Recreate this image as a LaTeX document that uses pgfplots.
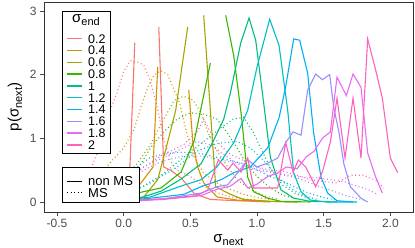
\documentclass[border=0pt]{standalone}
\usepackage{pgfplots}
\pgfplotsset{compat=1.18}
\usepackage{fontspec}
\setmainfont{Liberation Sans}
\definecolor{c1}{HTML}{F8766D}
\definecolor{c2}{HTML}{D89000}
\definecolor{c3}{HTML}{A3A500}
\definecolor{c4}{HTML}{39B600}
\definecolor{c5}{HTML}{00BF7D}
\definecolor{c6}{HTML}{00BFC4}
\definecolor{c7}{HTML}{00B0F6}
\definecolor{c8}{HTML}{9590FF}
\definecolor{c9}{HTML}{E76BF3}
\definecolor{c10}{HTML}{FF62BC}
\begin{document}
\begin{tikzpicture}[x=1pt,y=1pt]
\useasboundingbox (-44,-36) rectangle (371,212);
\begin{axis}[at={(0,0)}, anchor=south west, scale only axis,
  width=369pt, height=210pt,
  xmin=-0.598, xmax=2.17, ymin=-0.157, ymax=3.14,
  xtick={-0.5,0,0.5,1,1.5,2}, xticklabels={-0.5,0.0,0.5,1.0,1.5,2.0},
  ytick={0,1,2,3}, yticklabels={0,1,2,3},
  tick align=outside, tick pos=left, major tick length=4pt,
  axis line style={draw=black!80, line width=0.8pt},
  every tick/.style={black!70, line width=0.6pt},
  tick label style={font=\fontsize{12}{12}\selectfont, text=black!70},
  every axis x label/.style={at={(axis description cs:0.5,-0.133)}, anchor=center, font=\fontsize{15}{15}\selectfont},
  every axis y label/.style={at={(axis description cs:-0.0786,0.5)}, anchor=center, rotate=90, font=\fontsize{15}{15}\selectfont},
  xlabel={σ\raisebox{-0.45ex}{\fontsize{11}{11}\selectfont next}},
  ylabel={p(σ\raisebox{-0.45ex}{\fontsize{11}{11}\selectfont next})},
  unbounded coords=jump,
  ms/.style={line width=1.1pt, dash pattern=on 1pt off 2.6pt},
  nm/.style={line width=1.1pt},
]
% ---------- MS (dotted) ----------
\addplot[c1, ms] coordinates {(-0.45,0.03)(-0.38,0.1)(-0.3,0.3)(-0.23,0.6)(-0.17,0.92)(-0.1,1.45)(-0.05,1.72)(0.0,2.05)(0.05,2.22)(0.1,2.2)(0.15,2.15)(0.2,1.9)(0.25,1.5)(0.3,1.0)(0.35,0.65)(0.4,0.5)(0.5,0.4)(0.6,0.25)(0.7,0.15)(0.8,0.08)(0.9,0.05)(1.0,0.03)};
\addplot[c2, ms] coordinates {(-0.3,0.15)(-0.2,0.38)(-0.1,0.62)(0.0,0.85)(0.08,1.15)(0.13,1.5)(0.18,1.8)(0.23,2.0)(0.28,2.06)(0.33,2.0)(0.37,1.8)(0.42,1.55)(0.47,1.1)(0.53,0.7)(0.6,0.45)(0.7,0.3)(0.8,0.2)(0.9,0.12)(1.0,0.07)(1.1,0.04)};
\addplot[c3, ms] coordinates {(-0.2,0.1)(-0.1,0.2)(0.0,0.38)(0.1,0.6)(0.2,0.9)(0.3,1.3)(0.38,1.6)(0.45,1.66)(0.52,1.6)(0.58,1.4)(0.63,1.1)(0.7,0.8)(0.78,0.55)(0.85,0.35)(0.95,0.2)(1.05,0.1)(1.15,0.05)};
\addplot[c4, ms] coordinates {(-0.1,0.1)(0.0,0.25)(0.1,0.5)(0.2,0.85)(0.3,1.1)(0.4,1.3)(0.5,1.4)(0.6,1.38)(0.7,1.3)(0.78,1.08)(0.85,0.85)(0.92,0.6)(1.0,0.4)(1.1,0.22)(1.2,0.1)(1.3,0.05)};
\addplot[c5, ms] coordinates {(0.0,0.1)(0.15,0.25)(0.3,0.45)(0.45,0.7)(0.6,0.95)(0.72,1.15)(0.82,1.3)(0.9,1.33)(0.97,1.1)(1.05,0.75)(1.12,0.45)(1.2,0.25)(1.3,0.12)(1.4,0.05)};
\addplot[c6, ms] coordinates {(0.0,0.1)(0.2,0.3)(0.4,0.55)(0.55,0.8)(0.7,0.92)(0.85,0.95)(0.95,0.85)(1.05,0.65)(1.15,0.4)(1.25,0.22)(1.35,0.1)(1.45,0.04)};
\addplot[c7, ms] coordinates {(-0.1,0.1)(0.0,0.3)(0.1,0.55)(0.2,0.7)(0.3,0.75)(0.4,0.78)(0.5,0.78)(0.6,0.75)(0.7,0.7)(0.8,0.65)(0.9,0.6)(1.0,0.5)(1.1,0.4)(1.2,0.32)(1.3,0.22)(1.4,0.13)(1.5,0.07)(1.6,0.03)};
\addplot[c8, ms] coordinates {(-0.1,0.1)(0.0,0.25)(0.15,0.5)(0.3,0.65)(0.45,0.72)(0.6,0.72)(0.75,0.65)(0.9,0.6)(1.05,0.5)(1.2,0.42)(1.3,0.38)(1.4,0.3)(1.5,0.22)(1.6,0.15)(1.7,0.08)(1.8,0.03)};
\addplot[c9, ms] coordinates {(-0.1,0.1)(0.0,0.3)(0.15,0.55)(0.3,0.7)(0.45,0.85)(0.55,0.95)(0.65,0.9)(0.75,0.75)(0.85,0.6)(1.0,0.5)(1.15,0.45)(1.3,0.4)(1.45,0.38)(1.55,0.35)(1.65,0.32)(1.75,0.25)(1.85,0.18)(1.9,0.12)};
\addplot[c10, ms] coordinates {(-0.1,0.1)(0.0,0.3)(0.15,0.55)(0.3,0.75)(0.45,0.9)(0.55,1.1)(0.6,1.3)(0.65,1.1)(0.72,0.9)(0.8,0.75)(0.9,0.65)(1.0,0.55)(1.1,0.5)(1.2,0.48)(1.3,0.42)(1.4,0.35)(1.5,0.32)(1.6,0.3)(1.7,0.42)(1.8,0.42)(1.9,0.33)(1.95,0.22)};
% ---------- non MS (solid) ----------
\addplot[c1, nm] coordinates {(-0.06,0.06)(0.0,0.42)(0.045,0.47)(0.083,2.5)(0.17,nan)(0.263,2.75)(0.3,0.55)(0.35,0.5)(0.43,0.38)(0.53,0.13)(0.65,0.04)(0.85,0.02)(1.1,0.0)};
\addplot[c2, nm] coordinates {(-0.1,0.03)(0.05,0.11)(0.13,0.3)(0.22,0.55)(0.255,2.12)(0.37,nan)(0.488,1.76)(0.52,0.9)(0.555,0.55)(0.6,0.3)(0.7,0.08)(0.85,0.03)(1.1,0.01)(1.3,0.0)};
\addplot[c3, nm] coordinates {(-0.05,0.01)(0.05,0.04)(0.15,0.08)(0.255,0.35)(0.315,0.82)(0.39,1.44)(0.48,2.75)(0.54,nan)(0.6,2.93)(0.69,0.24)(0.8,0.12)(0.9,0.04)(1.1,0.01)(1.3,0.0)};
\addplot[c4, nm] coordinates {(0.0,0.06)(0.1,0.14)(0.28,0.22)(0.43,0.47)(0.53,0.97)(0.65,2.18)(0.71,nan)(0.765,2.93)(0.825,2.3)(0.88,1.4)(0.93,0.39)(0.975,0.16)(1.08,0.06)(1.18,0.01)(1.4,0.0)};
\addplot[c5, nm] coordinates {(0.0,0.02)(0.1,0.05)(0.28,0.17)(0.43,0.36)(0.58,0.6)(0.675,0.97)(0.75,1.3)(0.8,1.71)(0.878,2.5)(0.94,2.89)(0.99,2.54)(1.05,1.55)(1.1,0.7)(1.18,0.19)(1.275,0.06)(1.4,0.01)(1.6,0.0)};
\addplot[c6, nm] coordinates {(0.0,0.02)(0.2,0.08)(0.43,0.25)(0.58,0.35)(0.7,0.55)(0.825,0.93)(0.93,1.44)(1.0,2.12)(1.095,2.87)(1.165,2.46)(1.23,1.44)(1.275,0.46)(1.33,0.16)(1.4,0.03)(1.53,0.0)(1.75,0.0)};
\addplot[c7, nm] coordinates {(0.0,0.02)(0.2,0.06)(0.45,0.12)(0.58,0.24)(0.73,0.35)(0.825,0.46)(0.95,0.55)(1.08,0.85)(1.165,1.32)(1.215,1.81)(1.275,2.56)(1.32,2.54)(1.38,2.02)(1.425,1.08)(1.48,0.39)(1.53,0.14)(1.6,0.02)(1.72,0.0)};
\addplot[c8, nm] coordinates {(0.0,0.01)(0.3,0.05)(0.58,0.14)(0.7,0.24)(0.78,0.27)(0.855,0.46)(0.93,0.66)(1.0,0.55)(1.08,0.61)(1.155,0.69)(1.215,0.93)(1.27,1.1)(1.33,1.05)(1.38,1.76)(1.44,2.01)(1.49,1.92)(1.545,2.0)(1.575,1.49)(1.615,1.09)(1.65,0.61)(1.7,0.24)(1.78,0.06)(1.83,0.0)};
\addplot[c9, nm] coordinates {(0.0,0.01)(0.3,0.04)(0.58,0.1)(0.7,0.2)(0.8,0.25)(0.88,0.37)(0.93,0.22)(1.0,0.28)(1.08,0.4)(1.15,0.45)(1.22,0.55)(1.3,0.52)(1.37,0.71)(1.43,0.8)(1.49,1.0)(1.55,1.1)(1.6,1.96)(1.67,1.67)(1.72,2.01)(1.78,1.8)(1.83,0.77)(1.89,0.39)(1.94,0.14)};
\addplot[c10, nm] coordinates {(0.0,0.02)(0.3,0.05)(0.55,0.1)(0.63,0.19)(0.71,0.66)(0.78,0.5)(0.82,0.61)(0.88,0.47)(0.93,0.69)(0.975,0.22)(1.155,0.22)(1.215,0.93)(1.27,0.47)(1.31,0.66)(1.365,0.55)(1.44,0.24)(1.49,0.47)(1.55,0.94)(1.6,1.63)(1.66,0.69)(1.72,1.63)(1.78,0.69)(1.83,2.56)(1.89,2.07)(1.94,1.63)(2.0,0.69)(2.055,0.46)};
\end{axis}
% ---------- legends ----------
\draw[black, line width=0.8pt, fill=white] (18,59) rectangle (66,201);
\node[font=\fontsize{15}{15}\selectfont] at (42,192) {σ\raisebox{-0.45ex}{\fontsize{11}{11}\selectfont end}};
\draw[c1, line width=1.4pt] (23,173.2) -- (38,173.2);
\draw[c2, line width=1.4pt] (23,161.4) -- (38,161.4);
\draw[c3, line width=1.4pt] (23,149.6) -- (38,149.6);
\draw[c4, line width=1.4pt] (23,137.8) -- (38,137.8);
\draw[c5, line width=1.4pt] (23,126.0) -- (38,126.0);
\draw[c6, line width=1.4pt] (23,114.2) -- (38,114.2);
\draw[c7, line width=1.4pt] (23,102.4) -- (38,102.4);
\draw[c8, line width=1.4pt] (23,90.6) -- (38,90.6);
\draw[c9, line width=1.4pt] (23,78.8) -- (38,78.8);
\draw[c10, line width=1.4pt] (23,67.0) -- (38,67.0);
\begin{scope}[every node/.style={anchor=west, inner sep=0pt, font=\fontsize{12.5}{12.5}\selectfont}]
\node at (44,173.2) {0.2};
\node at (44,161.4) {0.4};
\node at (44,149.6) {0.6};
\node at (44,137.8) {0.8};
\node at (44,126.0) {1};
\node at (44,114.2) {1.2};
\node at (44,102.4) {1.4};
\node at (44,90.6) {1.6};
\node at (44,78.8) {1.8};
\node at (44,67.0) {2};
\end{scope}
\draw[black, line width=0.8pt, fill=white] (18,10) rectangle (95,45);
\draw[black, line width=1.2pt] (23,30.5) -- (38,30.5);
\node[anchor=west, inner sep=0pt, font=\fontsize{13}{13}\selectfont] at (44,30.5) {non MS};
\draw[black, line width=1.2pt, dash pattern=on 1pt off 2.6pt] (23,19.5) -- (38,19.5);
\node[anchor=west, inner sep=0pt, font=\fontsize{13}{13}\selectfont] at (44,18.5) {MS};
\end{tikzpicture}
\end{document}
